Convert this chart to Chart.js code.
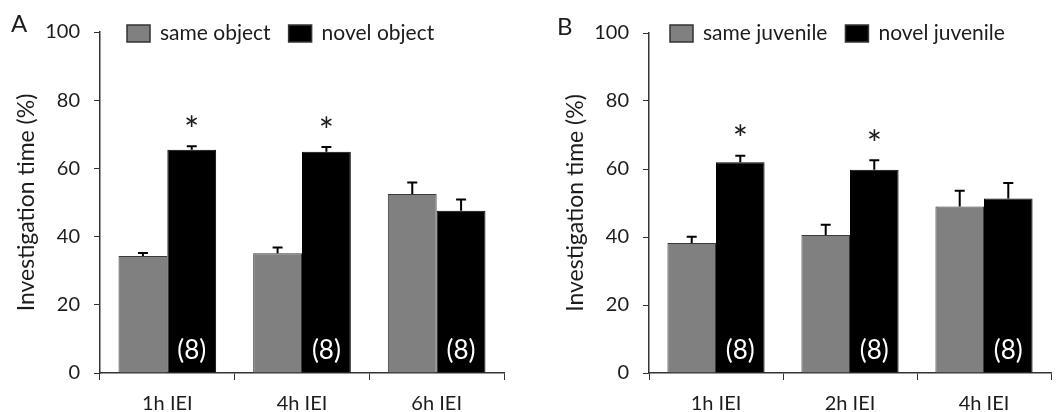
<!DOCTYPE html>
<html>
<head>
<meta charset="utf-8">
<script src="https://cdn.jsdelivr.net/npm/chart.js@4.4.0/dist/chart.umd.min.js"></script>
<style>
    html, body { margin: 0; padding: 0; background: #fff; }
    #wrap { position: relative; width: 1064px; height: 412px; }
    .panel { position: absolute; top: 0; width: 532px; height: 412px; }
    #panelA { left: 0; }
    #panelB { left: 532px; }
</style>
</head>
<body>
<div id="wrap">
    <div class="panel" id="panelA"><canvas id="chartA"></canvas></div>
    <div class="panel" id="panelB"><canvas id="chartB"></canvas></div>
</div>
<script>
// ===== Panel A: object recognition =====
const catsA = ['1h IEI', '4h IEI', '6h IEI'];
const sameObject = [34.3, 35.1, 52.5];
const sameObjectErr = [0.9, 1.7, 3.4];
const novelObject = [65.5, 64.9, 47.6];
const novelObjectErr = [1.0, 1.4, 3.3];
const starsA = [true, true, false];
const countsA = [8, 8, 8];

// ===== Panel B: social recognition =====
const catsB = ['1h IEI', '2h IEI', '4h IEI'];
const sameJuvenile = [38.2, 40.6, 49.0];
const sameJuvenileErr = [1.9, 3.0, 4.6];
const novelJuvenile = [62.0, 59.8, 51.3];
const novelJuvenileErr = [1.9, 2.8, 4.6];
const starsB = [true, true, false];
const countsB = [8, 8, 8];

const yTicks = [0, 20, 40, 60, 80, 100];

// ===== Colors / fonts =====
const colors = {
    gray: '#808080',
    grayBorder: '#3a3a3a',
    black: '#000000',
    text: '#1c1c1c',
    axis: '#333333'
};
const FONT = 'Lato, "Open Sans", sans-serif';

// ===== Error bars, stars, n-labels, legend, panel letter =====
const annotatePlugin = {
    id: 'annotate',
    afterDatasetsDraw(chart, args, opts) {
        const ctx = chart.ctx;
        const yScale = chart.scales.y;
        ctx.save();
        chart.data.datasets.forEach((ds, di) => {
            const meta = chart.getDatasetMeta(di);
            meta.data.forEach((bar, i) => {
                const top = yScale.getPixelForValue(ds.data[i] + opts.errors[di][i]);
                ctx.strokeStyle = '#000';
                ctx.lineWidth = 2;
                ctx.beginPath();
                ctx.moveTo(bar.x, bar.y);
                ctx.lineTo(bar.x, top);
                ctx.moveTo(bar.x - 5, top);
                ctx.lineTo(bar.x + 5, top);
                ctx.stroke();

                if (di === 1) {
                    if (opts.stars[i]) {
                        ctx.fillStyle = colors.text;
                        ctx.font = '36px ' + FONT;
                        ctx.textAlign = 'center';
                        ctx.textBaseline = 'middle';
                        ctx.fillText('*', bar.x, top - 15);
                    }
                    ctx.fillStyle = '#fff';
                    ctx.font = '26px ' + FONT;
                    ctx.textAlign = 'center';
                    ctx.textBaseline = 'middle';
                    ctx.fillText('(' + opts.counts[i] + ')', bar.x, yScale.getPixelForValue(0) - 22);
                }
            });
        });
        ctx.restore();
    },
    afterDraw(chart, args, opts) {
        const ctx = chart.ctx;
        ctx.save();
        // panel letter
        ctx.fillStyle = colors.text;
        ctx.font = '24px ' + FONT;
        ctx.textAlign = 'left';
        ctx.textBaseline = 'middle';
        ctx.fillText(opts.letter, opts.letterX, opts.letterY);

        // legend
        let x = opts.legendX;
        const yMid = 33.5;
        ctx.font = '21px ' + FONT;
        chart.data.datasets.forEach(ds => {
            ctx.fillStyle = ds.backgroundColor;
            ctx.fillRect(x, yMid - 8.5, 23, 17);
            ctx.strokeStyle = '#333';
            ctx.lineWidth = 1.5;
            ctx.strokeRect(x, yMid - 8.5, 23, 17);
            ctx.fillStyle = colors.text;
            ctx.fillText(ds.label, x + 33, yMid);
            x += 33 + ctx.measureText(ds.label).width + 18;
        });
        ctx.restore();
    }
};

// ===== Build a panel =====
function makePanel(canvasId, cats, sets, annot, layout) {
    const ctx = document.getElementById(canvasId);
    new Chart(ctx, {
        type: 'bar',
        data: {
            labels: cats,
            datasets: [
                {
                    label: sets[0].label,
                    data: sets[0].data,
                    backgroundColor: colors.gray,
                    borderColor: colors.grayBorder,
                    borderWidth: 1,
                    categoryPercentage: 0.725,
                    barPercentage: 1.0
                },
                {
                    label: sets[1].label,
                    data: sets[1].data,
                    backgroundColor: colors.black,
                    borderColor: colors.black,
                    borderWidth: 1,
                    categoryPercentage: 0.725,
                    barPercentage: 1.0
                }
            ]
        },
        options: {
            responsive: true,
            maintainAspectRatio: false,
            animation: false,
            layout: {
                padding: { top: layout.top, right: layout.right, left: 0, bottom: 0 }
            },
            plugins: {
                legend: { display: false },
                tooltip: { enabled: false },
                annotate: annot
            },
            scales: {
                x: {
                    afterFit: s => { s.height = 412 - layout.bottom; },
                    grid: {
                        offset: true,
                        drawOnChartArea: false,
                        drawTicks: true,
                        tickLength: 7,
                        color: colors.axis
                    },
                    border: { display: true, color: colors.axis, width: 1.5 },
                    ticks: {
                        font: { family: FONT, size: 20 },
                        color: colors.text,
                        padding: 12
                    }
                },
                y: {
                    min: 0,
                    max: 100,
                    afterFit: s => { s.width = layout.left; },
                    afterBuildTicks: s => { s.ticks = yTicks.map(v => ({ value: v })); },
                    grid: {
                        drawOnChartArea: false,
                        drawTicks: true,
                        tickLength: 6,
                        color: colors.axis
                    },
                    border: { display: true, color: colors.axis, width: 1.5 },
                    ticks: {
                        font: { family: FONT, size: 20 },
                        color: colors.text,
                        padding: 14
                    },
                    title: {
                        display: true,
                        text: 'Investigation time (%)',
                        font: { family: FONT, size: 23 },
                        color: colors.text,
                        padding: { top: layout.titlePad }
                    }
                }
            }
        },
        plugins: [annotatePlugin]
    });
}

// ===== Initialize on Load =====
document.addEventListener('DOMContentLoaded', () => {
    makePanel('chartA', catsA,
        [
            { label: 'same object', data: sameObject },
            { label: 'novel object', data: novelObject }
        ],
        {
            errors: [sameObjectErr, novelObjectErr],
            stars: starsA,
            counts: countsA,
            letter: 'A', letterX: 11, letterY: 24,
            legendX: 127
        },
        { left: 100, right: 28, top: 32, bottom: 373, titlePad: 13 }
    );

    makePanel('chartB', catsB,
        [
            { label: 'same juvenile', data: sameJuvenile },
            { label: 'novel juvenile', data: novelJuvenile }
        ],
        {
            errors: [sameJuvenileErr, novelJuvenileErr],
            stars: starsB,
            counts: countsB,
            letter: 'B', letterX: 25, letterY: 27,
            legendX: 138
        },
        { left: 117, right: 13, top: 33, bottom: 373, titlePad: 30 }
    );
});
</script>
</body>
</html>
